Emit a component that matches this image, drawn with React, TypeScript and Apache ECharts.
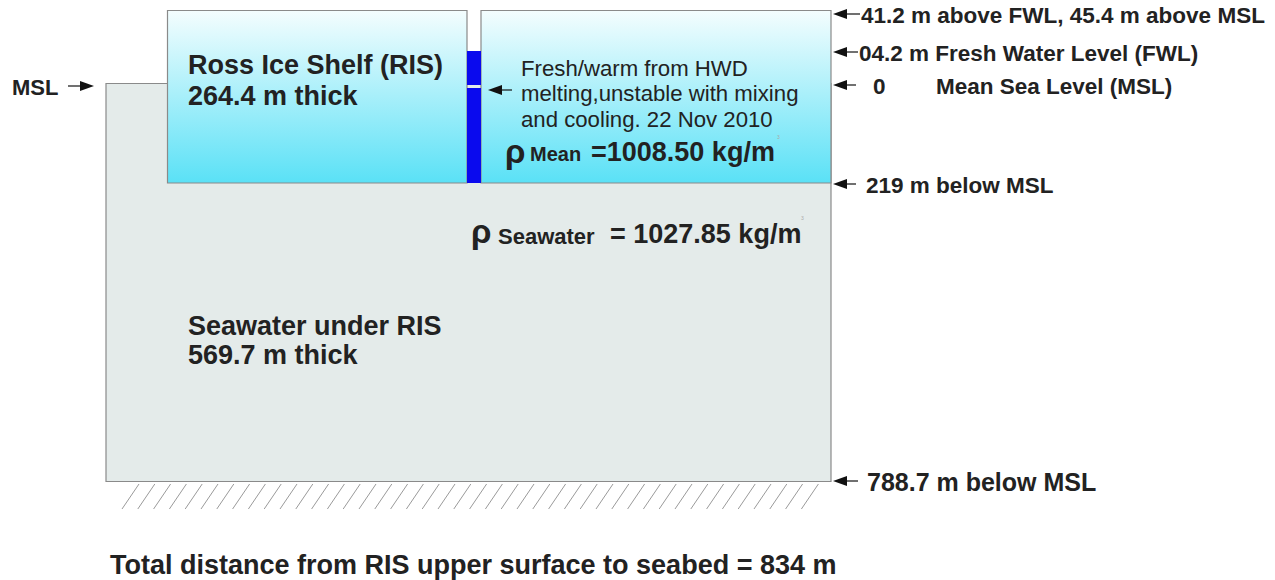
import React, { useEffect, useRef } from "react";
import * as echarts from "echarts";

const FONT = '"Liberation Sans", Arial, Helvetica, sans-serif';

// Level labels on the right (depth markers)
const levelLabels = [
  "41.2 m above FWL, 45.4 m above MSL",
  "04.2 m Fresh Water Level (FWL)",
  "0",
  "219 m below MSL",
  "788.7 m below MSL",
];
const mslLabel = "Mean Sea Level (MSL)";
const iceShelfLabels = ["Ross Ice Shelf (RIS)", "264.4 m thick"];
const seawaterLabels = ["Seawater under RIS", "569.7 m thick"];
const noteLines = [
  "Fresh/warm from HWD",
  "melting,unstable with mixing",
  "and cooling. 22 Nov 2010",
];
const meanDensity = ["ρ", "Mean", "=1008.50 kg/m"];
const seaDensity = ["ρ", "Seawater", "= 1027.85 kg/m"];
const totalLabel = "Total distance from RIS upper surface to seabed = 834 m";

function txt(
  x: number,
  y: number,
  text: string,
  size: number,
  weight: string = "bold",
  align: string = "left",
  color: string = "#222"
) {
  return {
    type: "text",
    x,
    y,
    z: 20,
    style: {
      text,
      fontSize: size,
      fontWeight: weight,
      fontFamily: FONT,
      fill: color,
      align,
      verticalAlign: "middle",
    },
  };
}

function arrowLeft(xHead: number, y: number, xTail: number) {
  return [
    {
      type: "line",
      z: 15,
      shape: { x1: xHead + 10, y1: y, x2: xTail, y2: y },
      style: { stroke: "#111", lineWidth: 1.2 },
    },
    {
      type: "polygon",
      z: 15,
      shape: { points: [[xHead, y], [xHead + 14, y - 5], [xHead + 14, y + 5]] },
      style: { fill: "#111" },
    },
  ];
}

function arrowRight(xTail: number, y: number, xHead: number) {
  return [
    {
      type: "line",
      z: 15,
      shape: { x1: xTail, y1: y, x2: xHead - 10, y2: y },
      style: { stroke: "#111", lineWidth: 1.2 },
    },
    {
      type: "polygon",
      z: 15,
      shape: { points: [[xHead, y], [xHead - 14, y - 5], [xHead - 14, y + 5]] },
      style: { fill: "#111" },
    },
  ];
}

export default function App() {
  const ref = useRef<HTMLDivElement>(null);

  useEffect(() => {
    if (!ref.current) return;
    const chart = echarts.init(ref.current, undefined, { renderer: "svg" });

    const iceFill = new echarts.graphic.LinearGradient(0, 0, 0, 1, [
      { offset: 0, color: "#f4fdfe" },
      { offset: 1, color: "#5ae1f6" },
    ]);
    const iceFill2 = new echarts.graphic.LinearGradient(0, 0, 0, 1, [
      { offset: 0, color: "#f4fdfe" },
      { offset: 1, color: "#5ae1f6" },
    ]);

    const hatch: any[] = [];
    for (let i = 0; i < 44; i++) {
      const x0 = 122 + i * 15.8;
      hatch.push({
        type: "line",
        z: 5,
        shape: { x1: x0, y1: 509, x2: x0 + 17, y2: 484 },
        style: { stroke: "#9a9a9a", lineWidth: 1 },
      });
    }

    const rowY = [15, 53, 86, 185, 482];
    const rowX = [861, 859, 873, 866, 867];
    const tailX = [860, 858, 856, 856, 858];
    const rowSize = [22.5, 22.5, 22.5, 22.5, 25];

    const elements: any[] = [
      // seawater body
      {
        type: "rect",
        z: 1,
        shape: { x: 106, y: 83.5, width: 725, height: 398 },
        style: { fill: "#e4ebea", stroke: "#8a8a8a", lineWidth: 1.2 },
      },
      // left ice shelf box
      {
        type: "rect",
        z: 3,
        shape: { x: 167.5, y: 10.5, width: 299.5, height: 172.5 },
        style: { fill: iceFill, stroke: "#8a8a8a", lineWidth: 1.2 },
      },
      // right ice box
      {
        type: "rect",
        z: 3,
        shape: { x: 481, y: 10.5, width: 350, height: 172.5 },
        style: { fill: iceFill2, stroke: "#8a8a8a", lineWidth: 1.2 },
      },
      // blue column (fresh water)
      {
        type: "rect",
        z: 4,
        shape: { x: 467, y: 51, width: 14, height: 34 },
        style: { fill: "#0a0aee" },
      },
      {
        type: "rect",
        z: 4,
        shape: { x: 467, y: 88, width: 14, height: 95 },
        style: { fill: "#0a0aee" },
      },
      ...hatch,
      // left MSL marker
      txt(12, 87, "MSL", 22),
      ...arrowRight(68, 86, 94),
      // right level markers
      ...rowY.flatMap((y, i) => arrowLeft(833, y - 1, tailX[i])),
      ...levelLabels.map((t, i) => txt(rowX[i], rowY[i], t, rowSize[i])),
      txt(936, 86, mslLabel, 22.5),
      // ice shelf text
      txt(188, 65, iceShelfLabels[0], 27),
      txt(188, 96, iceShelfLabels[1], 27),
      // note text
      ...arrowLeft(488, 90, 512),
      ...noteLines.map((t, i) => txt(521, 68 + i * 25.5, t, 22.2, "normal")),
      // mean density
      txt(505, 151, meanDensity[0], 33, "bold"),
      txt(530, 154, meanDensity[1], 20),
      txt(591, 152, meanDensity[2], 27),
      txt(777, 137, "3", 5, "normal", "left", "#aaa"),
      // seawater density
      txt(471, 231, seaDensity[0], 33, "bold"),
      txt(498, 236, seaDensity[1], 22),
      txt(610, 234, seaDensity[2], 27),
      txt(801, 218, "3", 5, "normal", "left", "#aaa"),
      // seawater label
      txt(188, 326, seawaterLabels[0], 27),
      txt(188, 355, seawaterLabels[1], 27),
      // bottom total
      txt(110, 565, totalLabel, 27),
    ];

    chart.setOption({
      animation: false,
      backgroundColor: "#ffffff",
      graphic: { elements },
    });

    return () => chart.dispose();
  }, []);

  return (
    <div
      ref={ref}
      style={{ position: "absolute", left: 0, top: 0, width: 1275, height: 580 }}
    />
  );
}
